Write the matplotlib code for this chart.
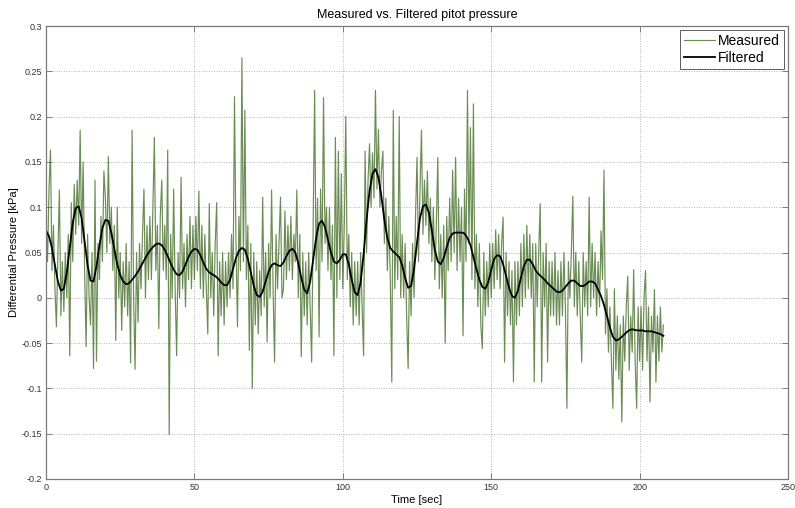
import numpy as np
import matplotlib
matplotlib.use("Agg")
import matplotlib.pyplot as plt

# Sampling intervals of the two records (seconds)
dt_measured = 0.5
dt_filtered = 1.0

# Raw pitot differential pressure [kPa], one row per 5 s
measured = [
    0.09, 0.04, 0.12, 0.163, 0.03, 0.08, 0.01, -0.032, 0.05, 0.119,
    -0.02, 0.04, -0.015, 0.05, 0.0, 0.07, -0.064, 0.105, 0.04, 0.125,
    0.07, 0.13, 0.08, 0.185, 0.06, 0.15, 0.03, -0.054, 0.07, 0.0,
    -0.03, 0.05, -0.078, 0.13, -0.07, 0.06, 0.02, 0.09, 0.04, 0.14,
    0.11, 0.05, 0.156, 0.06, 0.10, 0.03, 0.08, -0.047, 0.10, 0.0,
    0.05, -0.036, 0.04, -0.01, 0.06, -0.02, 0.04, -0.072, 0.185, 0.0,
    -0.079, 0.05, -0.027, 0.06, 0.01, 0.07, 0.12, 0.0, 0.08, 0.02,
    0.09, 0.02, 0.10, 0.177, 0.03, 0.08, -0.034, 0.09, 0.13, 0.03,
    0.08, 0.02, 0.163, -0.151, 0.07, 0.0, 0.12, 0.01, -0.064, 0.05,
    0.00, 0.133, 0.01, 0.06, -0.01, 0.07, 0.02, 0.09, 0.01, 0.08,
    0.02, 0.09, 0.03, 0.118, 0.01, 0.08, 0.0, 0.07, 0.01, -0.04,
    0.104, 0.0, 0.05, -0.02, 0.06, 0.105, -0.064, 0.04, -0.02, 0.05,
    -0.03, 0.04, -0.01, 0.05, 0.0, 0.07, 0.01, 0.222, 0.06, -0.032,
    0.09, 0.03, 0.265, 0.04, 0.207, 0.02, 0.08, -0.058, 0.06, -0.1,
    0.05, -0.03, 0.04, -0.04, 0.03, -0.02, 0.111, -0.01, 0.05, -0.049,
    0.06, 0.0, 0.119, 0.01, -0.071, 0.07, 0.01, 0.06, 0.111, 0.0,
    0.01, 0.096, 0.02, 0.08, 0.03, 0.09, 0.02, 0.07, 0.04, 0.119,
    0.0, 0.07, -0.065, 0.05, -0.02, 0.04, -0.03, 0.05, -0.01, -0.071,
    0.08, 0.229, 0.03, 0.11, -0.043, 0.12, 0.04, 0.221, 0.06, 0.10,
    0.03, 0.10, 0.02, 0.08, -0.064, 0.177, 0.0, 0.162, 0.02, 0.137,
    0.01, 0.08, 0.2, 0.02, 0.07, -0.01, 0.05, -0.03, 0.04, -0.02,
    0.04, -0.03, 0.05, -0.01, -0.064, 0.162, 0.05, 0.13, 0.17, 0.10,
    0.16, 0.11, 0.229, 0.12, 0.186, 0.10, 0.14, 0.162, 0.06, 0.11,
    0.03, 0.09, 0.02, -0.093, 0.207, 0.01, 0.09, 0.02, 0.2, 0.0,
    0.07, 0.0, 0.06, -0.02, -0.078, 0.04, -0.02, 0.06, 0.0, 0.09,
    0.155, 0.04, 0.12, 0.185, 0.07, 0.13, 0.08, 0.14, 0.06, 0.11,
    0.04, 0.10, 0.02, 0.08, 0.155, 0.01, 0.07, 0.0, 0.08, -0.05,
    0.09, 0.03, 0.11, 0.04, 0.141, 0.05, 0.155, 0.03, 0.11, 0.04,
    0.10, -0.042, 0.12, 0.04, 0.229, 0.06, 0.188, 0.02, 0.214, 0.01,
    0.07, -0.01, 0.06, -0.03, -0.056, 0.05, -0.02, 0.04, -0.01, 0.06,
    0.0, 0.06, 0.01, 0.075, 0.02, 0.07, 0.01, 0.06, 0.089, -0.071,
    0.05, -0.02, 0.04, -0.03, 0.03, -0.093, 0.04, -0.03, 0.04, -0.02,
    0.06, -0.01, 0.07, 0.0, 0.08, 0.01, 0.07, 0.0, 0.06, -0.093,
    0.06, -0.01, 0.05, 0.104, -0.093, 0.05, -0.01, 0.06, -0.071, 0.04,
    -0.02, 0.04, -0.02, 0.05, -0.03, 0.03, -0.03, 0.04, -0.02, 0.05,
    -0.01, -0.122, 0.04, 0.0, 0.05, 0.112, -0.01, 0.05, -0.02, 0.04,
    -0.02, -0.071, 0.05, -0.01, 0.04, -0.02, 0.111, -0.01, 0.06, 0.0,
    0.05, -0.02, 0.04, -0.01, 0.074, 0.02, 0.141, -0.04, 0.01, -0.06,
    -0.01, -0.07, -0.122, 0.01, -0.08, -0.02, -0.09, -0.03, -0.137, -0.02,
    -0.07, -0.01, 0.024, -0.08, -0.02, -0.06, 0.031, -0.07, -0.122, -0.01,
    -0.07, -0.01, -0.08, 0.0, 0.030, -0.07, -0.01, -0.115, -0.02, -0.06,
    0.009, -0.093, -0.02, -0.07, -0.01, -0.06, -0.03,
]

# Low-pass filtered pressure [kPa], one value per second
filtered = [
    0.074, 0.068, 0.055, 0.036, 0.018, 0.008, 0.010, 0.028, 0.056, 0.083,
    0.099, 0.101, 0.088, 0.062, 0.036, 0.019, 0.018, 0.035, 0.058, 0.077,
    0.086, 0.085, 0.072, 0.054, 0.037, 0.025, 0.018, 0.015, 0.016, 0.020,
    0.024, 0.029, 0.035, 0.041, 0.047, 0.052, 0.056, 0.059, 0.060, 0.058,
    0.053, 0.046, 0.038, 0.031, 0.026, 0.025, 0.029, 0.037, 0.045, 0.051,
    0.054, 0.053, 0.047, 0.039, 0.032, 0.028, 0.026, 0.024, 0.021, 0.017,
    0.014, 0.014, 0.020, 0.032, 0.044, 0.052, 0.055, 0.053, 0.043, 0.028,
    0.013, 0.003, 0.001, 0.007, 0.018, 0.029, 0.036, 0.038, 0.036, 0.035,
    0.039, 0.046, 0.052, 0.054, 0.050, 0.038, 0.022, 0.009, 0.005, 0.018,
    0.042, 0.066, 0.082, 0.085, 0.078, 0.064, 0.050, 0.040, 0.038, 0.042,
    0.048, 0.048, 0.037, 0.020, 0.006, 0.003, 0.017, 0.048, 0.086, 0.118,
    0.137, 0.142, 0.133, 0.112, 0.086, 0.066, 0.055, 0.051, 0.048, 0.045,
    0.036, 0.022, 0.011, 0.013, 0.032, 0.061, 0.088, 0.101, 0.103, 0.094,
    0.074, 0.053, 0.040, 0.037, 0.044, 0.056, 0.066, 0.071, 0.072, 0.072,
    0.072, 0.071, 0.066, 0.058, 0.045, 0.032, 0.020, 0.012, 0.010, 0.017,
    0.031, 0.043, 0.047, 0.046, 0.037, 0.024, 0.011, 0.002, 0.000, 0.008,
    0.022, 0.035, 0.042, 0.042, 0.037, 0.030, 0.026, 0.023, 0.020, 0.016,
    0.013, 0.010, 0.007, 0.006, 0.008, 0.012, 0.016, 0.019, 0.019, 0.016,
    0.013, 0.013, 0.015, 0.018, 0.018, 0.016, 0.009, 0.002, -0.008, -0.020,
    -0.033, -0.043, -0.047, -0.046, -0.043, -0.040, -0.037, -0.035, -0.035, -0.036,
    -0.036, -0.036, -0.037, -0.037, -0.037, -0.038, -0.039, -0.040, -0.042,
]

x_ticks = [0, 50, 100, 150, 200, 250]
y_ticks = [-0.2, -0.15, -0.1, -0.05, 0, 0.05, 0.1, 0.15, 0.2, 0.25, 0.3]
y_tick_labels = ["-0.2", "-0.15", "-0.1", "-0.05", "0", "0.05",
                 "0.1", "0.15", "0.2", "0.25", "0.3"]

t_meas = np.arange(len(measured)) * dt_measured
t_filt = np.arange(len(filtered)) * dt_filtered

plt.rcParams["font.family"] = ["Liberation Sans", "DejaVu Sans"]

fig = plt.figure(figsize=(7.95, 5.08), dpi=100)
ax = fig.add_axes([0.0579, 0.0571, 0.9333, 0.8917])

ax.plot(t_meas, measured, color="#3a661c", alpha=0.75, lw=0.85,
        label="Measured")
ax.plot(t_filt, filtered, color="black", lw=1.3, label="Filtered")

ax.set_xlim(0, 250)
ax.set_ylim(-0.2, 0.3)
ax.set_xticks(x_ticks)
ax.set_xticklabels([str(v) for v in x_ticks])
ax.set_yticks(y_ticks)
ax.set_yticklabels(y_tick_labels)

ax.grid(True, linestyle=(0, (1, 2)), color="#9a9a9a", lw=0.6)
ax.set_axisbelow(True)
ax.tick_params(direction="in", length=4, width=0.6, colors="#6e6e6e",
               labelcolor="#333333", labelsize=6.5, top=True, right=True,
               pad=3)
for s in ax.spines.values():
    s.set_color("#7a7a7a")
    s.set_linewidth(0.9)

ax.set_title("Measured vs. Filtered pitot pressure", fontsize=9, pad=6)
ax.set_xlabel("Time [sec]", fontsize=8, labelpad=2)
ax.set_ylabel("Differential Pressure [kPa]", fontsize=8, labelpad=2)

leg = ax.legend(loc="upper right", fontsize=10, frameon=True, fancybox=False,
                handlelength=2.2, handletextpad=0.2, borderpad=0.3,
                labelspacing=0.2, borderaxespad=0.3)
leg.get_frame().set_edgecolor("#333333")
leg.get_frame().set_linewidth(0.7)

fig.savefig("out.png", dpi=100)
